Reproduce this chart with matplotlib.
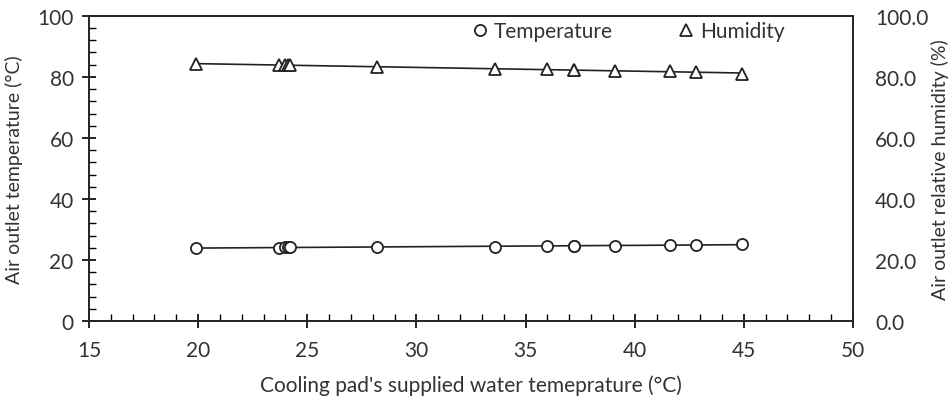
import numpy as np
import matplotlib
matplotlib.use("Agg")
import matplotlib.pyplot as plt
from matplotlib.ticker import MultipleLocator, FormatStrFormatter
from matplotlib.lines import Line2D

plt.rcParams['font.family'] = ['Lato', 'DejaVu Sans']

# water temperature supplied to the cooling pad (°C)
water_temp = [19.9, 23.7, 24.0, 24.1, 24.2, 28.2, 33.6, 36.0, 37.2, 37.2, 39.1, 41.6, 42.8, 44.9]
# air outlet temperature (°C)
air_temp = [23.9, 23.8, 24.1, 24.2, 24.3, 24.3, 24.4, 24.6, 24.6, 24.7, 24.7, 24.9, 24.9, 25.1]
# air outlet relative humidity (%)
humidity = [84.2, 84.0, 83.9, 83.8, 83.8, 83.2, 82.7, 82.5, 82.3, 82.3, 82.1, 81.9, 81.6, 80.8]

txt = '#333333'
fs = 15
fig = plt.figure(figsize=(9.49, 4.02), dpi=100)
ax = fig.add_axes([0.0938, 0.199, 0.805, 0.759])
ax2 = ax.twinx()

x = np.array(water_temp)
xs = np.array([x.min(), x.max()])

# temperature
ax.plot(x, air_temp, 'o', ms=8, mfc='white', mec='#222222', mew=1.3, zorder=3)
p = np.polyfit(x, air_temp, 1)
ax.plot(xs, np.polyval(p, xs), '-', color='#222222', lw=1.2, zorder=2)

# humidity
ax2.plot(x, humidity, '^', ms=8, mfc='white', mec='#222222', mew=1.3, zorder=3)
p2 = np.polyfit(x, humidity, 1)
ax2.plot(xs, np.polyval(p2, xs), '-', color='#222222', lw=1.2, zorder=2)

ax.set_xlim(15, 50)
ax.set_ylim(0, 100)
ax2.set_ylim(0, 100)

ax.xaxis.set_major_locator(MultipleLocator(5))
ax.xaxis.set_minor_locator(MultipleLocator(1))
ax.yaxis.set_major_locator(MultipleLocator(20))
ax.yaxis.set_minor_locator(MultipleLocator(4))
ax.tick_params(which='major', direction='inout', length=10, width=1.2, labelsize=fs, colors='black', labelcolor=txt)
ax.tick_params(which='minor', direction='in', length=5, width=1.0)
ax.tick_params(axis='x', which='major', pad=9)
ax.tick_params(axis='y', which='major', pad=6)
ax2.yaxis.set_major_locator(MultipleLocator(20))
ax2.yaxis.set_major_formatter(FormatStrFormatter('%.1f'))
ax2.tick_params(axis='y', length=0, labelsize=fs, labelcolor=txt, pad=16)

for a in (ax, ax2):
    for s in a.spines.values():
        s.set_linewidth(1.2)
        s.set_color('#222222')

ax.set_xlabel("Cooling pad's supplied water temeprature (°C)", fontsize=fs, color=txt, labelpad=10)
ax.set_ylabel("Air outlet temperature (°C)", fontsize=14, color=txt, labelpad=10)
ax2.set_ylabel("Air outlet relative humidity (%)", fontsize=14, color=txt, labelpad=2)

handles = [Line2D([], [], ls='none', marker='o', ms=8, mfc='white', mec='#222222', mew=1.3),
           Line2D([], [], ls='none', marker='^', ms=8, mfc='white', mec='#222222', mew=1.3)]
ax.legend(handles, ['Temperature', 'Humidity'], ncol=2, frameon=False, loc='upper right',
          bbox_to_anchor=(0.935, 1.045), handlelength=0.7, handletextpad=0.3, columnspacing=3.2,
          fontsize=fs, labelcolor=txt)

fig.savefig('out.png', dpi=100)
